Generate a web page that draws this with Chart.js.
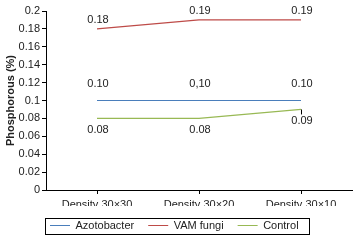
<!DOCTYPE html>
<html>
<head>
<meta charset="utf-8">
<script src="https://cdn.jsdelivr.net/npm/chart.js@4/dist/chart.umd.min.js"></script>
<style>
  html, body { margin: 0; padding: 0; background: #fff; }
  #wrap { width: 353px; height: 241px; }
</style>
</head>
<body>
<div id="wrap"><canvas id="line_chart"></canvas></div>
<script>
// ---------------- data ----------------
let categories = ['Density 30\u00d730', 'Density 30\u00d720', 'Density 30\u00d710'];
let azotobacter = [0.10, 0.10, 0.10];
let vam_fungi = [0.18, 0.19, 0.19];
let control = [0.08, 0.08, 0.09];
let azotobacter_labels = ['0.10', '0,10', '0.10'];
let vam_labels = ['0.18', '0.19', '0.19'];
let control_labels = ['0.08', '0.08', '0.09'];
let y_ticks = [0, 0.02, 0.04, 0.06, 0.08, 0.1, 0.12, 0.14, 0.16, 0.18, 0.2];

const FONT = 'Liberation Sans, Arial, sans-serif';
const LEGEND_LEFT = 50;

// small stand-in for the datalabels plugin
const valueLabels = {
    id: 'valueLabels',
    afterDatasetsDraw(chart) {
        const ctx = chart.ctx;
        ctx.save();
        ctx.font = '11px ' + FONT;
        ctx.fillStyle = '#222';
        ctx.textAlign = 'center';
        ctx.textBaseline = 'middle';
        chart.data.datasets.forEach((ds, i) => {
            let meta = chart.getDatasetMeta(i);
            meta.data.forEach((pt, j) => {
                ctx.fillText(ds.valueLabels[j], pt.x + 1, pt.y + ds.labelOffset);
                if (ds.leader && ds.leader[j]) {
                    ctx.strokeStyle = '#000';
                    ctx.lineWidth = 1;
                    ctx.beginPath();
                    ctx.moveTo(Math.round(pt.x) + 0.5, pt.y);
                    ctx.lineTo(Math.round(pt.x) + 0.5, pt.y + 5);
                    ctx.stroke();
                }
            });
        });
        ctx.restore();
    }
};

// move the legend row and draw a border round it
const legendBox = {
    id: 'legendBox',
    afterUpdate(chart) {
        const lg = chart.legend;
        const boxes = lg.legendHitBoxes;
        if (!boxes || !boxes.length) return;
        let d = LEGEND_LEFT - boxes[0].left;
        lg.left += d;
        lg.right += d;
        boxes.forEach(b => { b.left += d; });
    },
    afterDraw(chart) {
        const lg = chart.legend;
        const boxes = lg.legendHitBoxes;
        if (!boxes || !boxes.length) return;
        const ctx = chart.ctx;
        const lab = lg.options.labels;
        ctx.save();
        ctx.font = '11px ' + FONT;
        let first = boxes[0], last = boxes[boxes.length - 1];
        let lastText = lg.legendItems[boxes.length - 1].text;
        let right = last.left + lab.pointStyleWidth + 5.5 + ctx.measureText(lastText).width;
        let cy = first.top + 5.5;
        let x0 = Math.round(first.left - 5) + 0.5;
        let x1 = Math.round(right + 10) + 0.5;
        let y0 = Math.round(cy - 8) + 0.5;
        let y1 = Math.round(cy + 8) + 0.5;
        ctx.strokeStyle = '#000';
        ctx.lineWidth = 1;
        ctx.strokeRect(x0, y0, x1 - x0, y1 - y0);
        ctx.restore();
    }
};

function series(label, data, colour, extra) {
    return Object.assign({
        label: label,
        data: data,
        borderColor: colour,
        backgroundColor: colour,
        pointBorderColor: colour,
        pointBackgroundColor: colour,
        pointBorderWidth: 1.2
    }, extra);
}

var line_chart_context = document.getElementById('line_chart').getContext('2d');
var line_chart = new Chart(line_chart_context, {
    type: 'line',
    data: {
        labels: categories,
        datasets: [
            series('Azotobacter', azotobacter, '#4a7ebb', { valueLabels: azotobacter_labels, labelOffset: -17 }),
            series('VAM fungi', vam_fungi, '#be4b48', { valueLabels: vam_labels, labelOffset: -9 }),
            series('Control', control, '#98b954', { valueLabels: control_labels, labelOffset: 12, leader: [false, false, true] })
        ]
    },
    options: {
        responsive: true,
        maintainAspectRatio: false,
        animation: false,
        layout: { padding: { left: 0, right: 1, top: 11, bottom: 0 } },
        elements: {
            line: { borderWidth: 1.2, tension: 0 },
            point: { radius: 0 }
        },
        scales: {
            x: {
                offset: true,
                grid: { offset: false, drawOnChartArea: false, drawTicks: true, tickLength: 4, color: '#000' },
                border: { color: '#000' },
                ticks: { color: '#222', font: { family: FONT, size: 11 }, padding: 4, maxRotation: 0 },
                afterFit: s => { s.height = 16; }
            },
            y: {
                min: 0,
                max: 0.2,
                afterBuildTicks: s => { s.ticks = y_ticks.map(v => ({ value: v })); },
                grid: { drawOnChartArea: false, drawTicks: true, tickLength: 4, color: '#000' },
                border: { color: '#000' },
                ticks: {
                    color: '#222',
                    font: { family: FONT, size: 11 },
                    padding: 2,
                    callback: v => String(+v.toFixed(2))
                },
                title: {
                    display: true,
                    text: 'Phosphorous (%)',
                    color: '#222',
                    font: { family: FONT, size: 11, weight: 'bold' },
                    padding: { top: 4, bottom: 0 }
                },
                afterFit: s => { s.width = 46; }
            }
        },
        plugins: {
            legend: {
                display: true,
                position: 'bottom',
                labels: {
                    color: '#222',
                    font: { family: FONT, size: 11 },
                    usePointStyle: true,
                    pointStyle: 'line',
                    pointStyleWidth: 20,
                    padding: 14
                }
            },
            tooltip: { enabled: false }
        }
    },
    plugins: [valueLabels, legendBox]
});
</script>
</body>
</html>
